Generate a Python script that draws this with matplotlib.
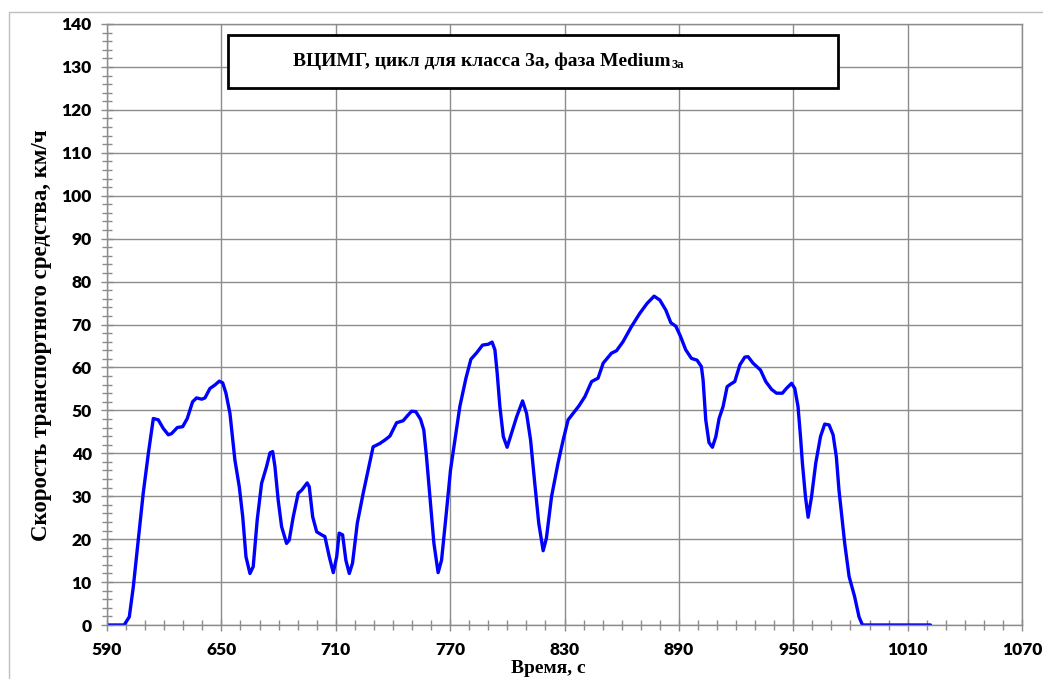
import matplotlib.pyplot as plt
from matplotlib.patches import Rectangle
from matplotlib.text import Annotation
from matplotlib.ticker import MultipleLocator

# time, s and vehicle speed, km/h (medium phase, class 3a)
time_s = [
    590, 599, 601.7, 603.8, 606.4, 609.0, 611.7, 614.3, 616.9, 619.5,
    622.2, 623.9, 626.9, 629.7, 632.1, 634.9, 637.0, 639.7, 641.4, 644.0,
    646.6, 648.9, 650.7, 652.4, 654.5, 656.2, 657.1, 659.4, 661.2, 662.9,
    665.0, 666.7, 668.8, 671.1, 673.7, 675.5, 676.9, 678.1, 679.8, 681.6,
    684.2, 685.6, 687.7, 690.3, 692.1, 695.0, 696.1, 697.9, 700.0, 702.6,
    704.3, 706.6, 708.7, 710.5, 711.8, 713.6, 715.3, 717.1, 718.8, 721.3,
    724.4, 727.0, 729.6, 733.2, 735.8, 738.4, 741.9, 745.4, 747.5, 749.8,
    752.0, 754.5, 756.2, 757.6, 759.4, 761.5, 763.7, 765.5, 767.8, 770.2,
    772.5, 775.1, 778.3, 780.9, 783.9, 787.0, 790.0, 792.0, 793.5, 794.7,
    796.1, 797.9, 799.9, 802.2, 804.9, 808.0, 810.1, 812.2, 814.4, 816.5,
    818.8, 820.5, 823.2, 826.6, 829.3, 831.9, 834.5, 837.5, 840.7, 844.2,
    847.6, 850.3, 854.6, 857.3, 860.7, 865.1, 869.5, 873.3, 877.0, 880.0,
    883.1, 885.8, 888.4, 890.8, 893.6, 896.6, 899.5, 901.8, 902.7, 904.1,
    905.8, 907.6, 909.4, 911.1, 913.2, 915.3, 917.1, 919.3, 922.0, 924.6,
    926.3, 928.9, 932.8, 935.6, 938.6, 941.2, 944.3, 946.4, 949.1, 950.8,
    952.5, 953.8, 954.8, 956.4, 957.8, 959.6, 961.8, 964.3, 966.5, 968.8,
    970.9, 972.6, 974.0, 975.3, 977.0, 979.3, 982.2, 984.5, 986.3, 1022,
]
speed_kmh = [
    0, 0, 1.9, 8.9, 19.8, 30.7, 40.0, 48.1, 47.8, 45.8,
    44.3, 44.6, 46.0, 46.2, 48.1, 52.0, 52.9, 52.6, 52.9, 55.1,
    55.9, 56.8, 56.4, 54.0, 49.3, 42.3, 38.4, 32.2, 25.2, 15.9,
    12.0, 13.6, 24.5, 33.0, 36.9, 40.1, 40.4, 36.9, 29.1, 22.9,
    19.0, 19.8, 25.2, 30.7, 31.4, 33.1, 32.2, 25.2, 21.7, 21.0,
    20.6, 15.9, 12.2, 15.9, 21.4, 21.0, 15.1, 12.0, 14.4, 23.7,
    30.7, 36.1, 41.5, 42.3, 43.1, 44.0, 47.1, 47.6, 48.7, 49.8,
    49.7, 47.9, 45.4, 39.2, 29.9, 19.0, 12.2, 15.1, 25.2, 36.1,
    43.1, 50.9, 57.5, 61.9, 63.4, 65.2, 65.4, 65.9, 64.1, 58.6,
    50.9, 43.9, 41.4, 44.7, 48.5, 52.2, 49.3, 43.1, 33.0, 23.7,
    17.3, 20.2, 29.9, 37.7, 43.1, 47.8, 49.3, 51.0, 53.2, 56.7,
    57.5, 61.0, 63.3, 63.9, 66.0, 69.5, 72.6, 74.9, 76.6, 75.7,
    73.4, 70.4, 69.6, 67.3, 64.1, 62.1, 61.7, 60.2, 57.1, 47.8,
    42.5, 41.4, 43.9, 48.1, 50.9, 55.5, 56.1, 56.7, 60.6, 62.4,
    62.5, 61.0, 59.4, 56.7, 54.9, 54.0, 54.0, 55.1, 56.3, 55.1,
    50.9, 43.9, 37.7, 29.9, 25.1, 29.9, 37.7, 43.9, 46.8, 46.6,
    44.3, 39.2, 31.4, 26.0, 19.0, 11.3, 6.6, 1.9, 0, 0,
]
x_ticks = [590, 650, 710, 770, 830, 890, 950, 1010, 1070]

title_main = "ВЦИМГ, цикл для класса 3а, фаза Medium"
title_sub = "3а"
x_label = "Время, с"
y_label = "Скорость транспортного средства, км/ч"

grid_col = "#8c8c8c"
serif = "Liberation Serif"
tick_font = "Lato"

fig = plt.figure(figsize=(10.43, 6.79), dpi=100)
ax = fig.add_axes([107 / 1043, 1 - 625 / 679, 915 / 1043, 601 / 679])

ax.plot(time_s, speed_kmh, color="#0000ff", linewidth=2.4,
        solid_joinstyle="round", solid_capstyle="round")

ax.set_xlim(590, 1070)
ax.set_ylim(0, 140)
ax.set_xticks(x_ticks)
ax.xaxis.set_minor_locator(MultipleLocator(10))
ax.yaxis.set_major_locator(MultipleLocator(10))
ax.yaxis.set_minor_locator(MultipleLocator(2))
ax.grid(which="major", color=grid_col, linewidth=1.0)
ax.set_axisbelow(True)

for s in ax.spines.values():
    s.set_color(grid_col)
    s.set_linewidth(1.0)

ax.tick_params(which="major", direction="inout", length=8, width=1, color=grid_col)
ax.tick_params(which="minor", direction="inout", length=7, width=1, color=grid_col)
ax.tick_params(axis="y", which="major", pad=7)
ax.tick_params(axis="x", which="major", pad=8)
for lbl in ax.get_xticklabels() + ax.get_yticklabels():
    lbl.set_fontfamily(tick_font)
    lbl.set_fontweight("heavy")
    lbl.set_fontsize(12.5)

ax.set_xlabel(x_label, family=serif, fontweight="bold", fontsize=14)
ax.xaxis.set_label_coords(0.482, -0.072)
ax.xaxis.label.set_verticalalignment("center")
ax.set_ylabel(y_label, family=serif, fontweight="bold", fontsize=16.5)
ax.yaxis.set_label_coords(-0.072, 0.483)
ax.yaxis.label.set_verticalalignment("center")

# title inside a framed box
box = Rectangle((228 / 1043, 1 - 88 / 679), 610 / 1043, 53 / 679,
                transform=fig.transFigure, facecolor="white",
                edgecolor="black", linewidth=2.0, zorder=5)
fig.patches.append(box)
t = fig.text(293 / 1043, 1 - 61 / 679, title_main, family=serif,
             fontweight="bold", fontsize=14, ha="left", va="center", zorder=6)
sub = Annotation(title_sub, xy=(1, 0), xycoords=t, xytext=(1, -1),
                 textcoords="offset points", family=serif, fontweight="bold",
                 fontsize=9, ha="left", va="bottom", zorder=6,
                 annotation_clip=False)
fig.add_artist(sub)

# outer chart frame
fig.patches.append(Rectangle((9 / 1043, -0.1), 1.2, 1 - 12 / 679 + 0.1,
                             transform=fig.transFigure, fill=False,
                             edgecolor="#bfbfbf", linewidth=1.0))

fig.savefig("out.png", dpi=100)
